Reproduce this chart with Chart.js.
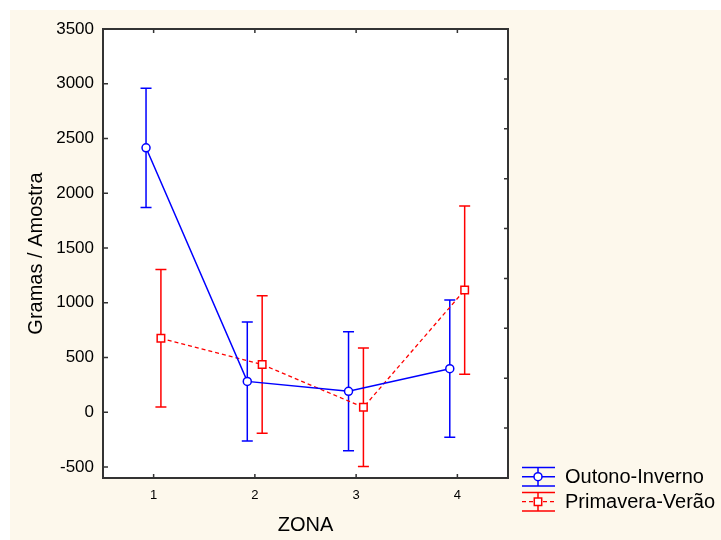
<!DOCTYPE html>
<html>
<head>
<meta charset="utf-8">
<script src="https://cdn.jsdelivr.net/npm/chart.js"></script>
<style>
  body { margin: 0; background: #fff; }
  #bg { position: absolute; left: 10px; top: 10px; width: 711px; height: 530px; background: #fdf8ec; }
  #wrap { position: absolute; left: 0; top: 0; width: 721px; height: 540px; }
</style>
</head>
<body>
<div id="bg"></div>
<div id="wrap"><canvas id="myChart"></canvas></div>
<script>
const zonas = [1, 2, 3, 4];
const outonoMedia = [2415, 282, 192, 398];
const outonoErro = [545, 543, 543, 627];
const primaveraMedia = [676, 436, 45, 1116];
const primaveraErro = [627, 628, 541, 768];
const yTicks = [-500, 0, 500, 1000, 1500, 2000, 2500, 3000, 3500];

// small horizontal shift so the two series don't overlap
const desvioOutono = -0.075;
const desvioPrimavera = 0.072;
const fonte = '"Liberation Sans", Arial, sans-serif';

// white plot area
const fundo = {
  id: 'fundo',
  beforeDraw(chart) {
    const a = chart.chartArea, ctx = chart.ctx;
    ctx.save();
    ctx.fillStyle = '#fff';
    ctx.fillRect(a.left, a.top, a.right - a.left, a.bottom - a.top);
    ctx.restore();
  }
};

// error bars (mean +/- erro)
const barrasErro = {
  id: 'barrasErro',
  beforeDatasetsDraw(chart) {
    const ctx = chart.ctx, sx = chart.scales.x, sy = chart.scales.y;
    chart.data.datasets.forEach(function(ds) {
      ctx.save();
      ctx.strokeStyle = ds.borderColor;
      ctx.lineWidth = 1.5;
      ds.data.forEach(function(p, i) {
        var px = sx.getPixelForValue(p.x);
        var top = sy.getPixelForValue(p.y + ds.erro[i]);
        var bot = sy.getPixelForValue(p.y - ds.erro[i]);
        ctx.beginPath();
        ctx.moveTo(px, top); ctx.lineTo(px, bot);
        ctx.moveTo(px - 5.5, top); ctx.lineTo(px + 5.5, top);
        ctx.moveTo(px - 5.5, bot); ctx.lineTo(px + 5.5, bot);
        ctx.stroke();
      });
      ctx.restore();
    });
  }
};

// frame, inside ticks and legend
const moldura = {
  id: 'moldura',
  afterDraw(chart) {
    const a = chart.chartArea, ctx = chart.ctx, s = chart.scales;
    ctx.save();
    ctx.strokeStyle = '#333';
    ctx.lineWidth = 1.5;
    ctx.beginPath();
    s.y.ticks.forEach(function(t, i) {
      var py = s.y.getPixelForTick(i);
      ctx.moveTo(a.left, py); ctx.lineTo(a.left + 5, py);
    });
    s.y2.ticks.forEach(function(t, i) {
      var py = s.y2.getPixelForTick(i);
      ctx.moveTo(a.right, py); ctx.lineTo(a.right - 4, py);
    });
    s.x.ticks.forEach(function(t, i) {
      var px = s.x.getPixelForTick(i);
      ctx.moveTo(px, a.top); ctx.lineTo(px, a.top + 4);
      ctx.moveTo(px, a.bottom); ctx.lineTo(px, a.bottom - 4);
    });
    ctx.stroke();
    ctx.lineWidth = 2;
    ctx.strokeRect(a.left, a.top, a.right - a.left, a.bottom - a.top);

    chart.data.datasets.forEach(function(ds, k) {
      var x0 = a.right + 14, ym = a.bottom - 1.3 + k * 25;
      ctx.strokeStyle = ds.borderColor;
      ctx.lineWidth = 1.5;
      ctx.setLineDash([]);
      ctx.beginPath();
      ctx.moveTo(x0, ym - 9.3); ctx.lineTo(x0 + 33, ym - 9.3);
      ctx.moveTo(x0, ym + 9.3); ctx.lineTo(x0 + 33, ym + 9.3);
      ctx.moveTo(x0 + 16, ym - 9.3); ctx.lineTo(x0 + 16, ym + 9.3);
      ctx.stroke();
      ctx.lineWidth = ds.borderWidth;
      ctx.setLineDash(ds.borderDash || []);
      ctx.beginPath();
      ctx.moveTo(x0, ym); ctx.lineTo(x0 + 33, ym);
      ctx.stroke();
      ctx.setLineDash([]);
      ctx.fillStyle = '#fff';
      ctx.lineWidth = 1.5;
      ctx.beginPath();
      if (ds.pointStyle == 'circle') {
        ctx.arc(x0 + 16, ym, 4, 0, Math.PI * 2);
      } else {
        ctx.rect(x0 + 12.3, ym - 3.7, 7.4, 7.4);
      }
      ctx.fill();
      ctx.stroke();
      ctx.fillStyle = '#000';
      ctx.font = '20px ' + fonte;
      ctx.textBaseline = 'middle';
      ctx.fillText(ds.label, x0 + 43, ym + 1);
    });
    ctx.restore();
  }
};

new Chart("myChart", {
  type: "line",
  data: {
    datasets: [{
      label: "Outono-Inverno",
      data: zonas.map(function(z, i) { return {x: z + desvioOutono, y: outonoMedia[i]}; }),
      erro: outonoErro,
      borderColor: "#0000ff",
      borderWidth: 1.5,
      pointStyle: "circle",
      pointRadius: 4,
      pointBackgroundColor: "#fff",
      pointBorderWidth: 1.5,
      fill: false
    }, {
      label: "Primavera-Verão",
      data: zonas.map(function(z, i) { return {x: z + desvioPrimavera, y: primaveraMedia[i]}; }),
      erro: primaveraErro,
      borderColor: "#ff0000",
      borderWidth: 1.3,
      borderDash: [4, 3],
      pointStyle: "rect",
      pointRadius: 5.3,
      pointBackgroundColor: "#fff",
      pointBorderWidth: 1.5,
      fill: false
    }]
  },
  options: {
    responsive: true,
    maintainAspectRatio: false,
    animation: false,
    layout: {padding: {top: 29, right: 213, bottom: 0, left: 0}},
    plugins: {
      legend: {display: false},
      tooltip: {enabled: false}
    },
    scales: {
      x: {
        type: "linear",
        min: 0.5,
        max: 4.5,
        afterBuildTicks: function(s) { s.ticks = zonas.map(function(v) { return {value: v}; }); },
        afterFit: function(s) { s.height = 62; },
        grid: {display: false, drawTicks: false},
        border: {display: false},
        ticks: {color: "#000", font: {family: fonte, size: 13}, padding: 10, maxRotation: 0,
          callback: function(v) { return String(v); }},
        title: {display: true, text: "ZONA", color: "#000", font: {family: fonte, size: 20}, padding: {top: 0, bottom: 3}}
      },
      y: {
        min: -600,
        max: 3500,
        afterBuildTicks: function(s) { s.ticks = yTicks.map(function(v) { return {value: v}; }); },
        afterFit: function(s) { s.width = 103; },
        grid: {display: false, drawTicks: false},
        border: {display: false},
        ticks: {color: "#000", font: {family: fonte, size: 17}, padding: 9,
          callback: function(v) { return String(v); }},
        title: {display: true, text: "Gramas / Amostra", color: "#000", font: {family: fonte, size: 20}, padding: {top: 24, bottom: 0}}
      },
      y2: {
        position: "right",
        min: 0,
        max: 9,
        ticks: {stepSize: 1, display: false},
        afterFit: function(s) { s.width = 0; },
        grid: {display: false, drawTicks: false},
        border: {display: false}
      }
    }
  },
  plugins: [fundo, barrasErro, moldura]
});
</script>
</body>
</html>
